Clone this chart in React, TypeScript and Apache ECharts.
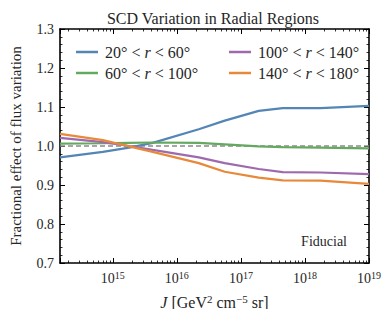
import React, { useEffect, useRef } from "react";
import * as echarts from "echarts";

const J = [1.5e14, 7e14, 1.8e15, 4.2e15, 2.2e16, 5.6e16, 1.9e17, 4.5e17, 1.75e18, 1e19];
const blue = [0.971, 0.985, 0.996, 1.008, 1.043, 1.065, 1.09, 1.097, 1.097, 1.103];
const green = [1.006, 1.007, 1.008, 1.009, 1.008, 1.004, 0.999, 0.997, 0.996, 0.994];
const purple = [1.021, 1.01, 1.0, 0.99, 0.971, 0.956, 0.941, 0.933, 0.932, 0.928];
const orange = [1.031, 1.015, 0.999, 0.985, 0.956, 0.934, 0.919, 0.912, 0.911, 0.903];
const names = ["20° < r < 60°", "60° < r < 100°", "100° < r < 140°", "140° < r < 180°"];
const legendLabels = ["20° < {i|r} < 60°", "60° < {i|r} < 100°", "100° < {i|r} < 140°", "140° < {i|r} < 180°"];
const colors = ["#5385b5", "#65a85f", "#9e6aad", "#e8893a"];
const fiducial = 1.0;

const FONT = "Liberation Serif";
const TXT = "#262626";

export default function App() {
  const ref = useRef<HTMLDivElement>(null);
  useEffect(() => {
    const chart = echarts.init(ref.current!, null, { renderer: "svg" });
    const seriesData = [blue, green, purple, orange];
    const labelMap: Record<string, string> = {};
    names.forEach((n, i) => (labelMap[n] = legendLabels[i]));
    const legendCommon = {
      orient: "vertical" as const,
      icon: "rect",
      itemWidth: 22,
      itemHeight: 2.5,
      itemGap: 5,
      textStyle: {
        fontFamily: FONT,
        fontSize: 16,
        lineHeight: 16,
        color: TXT,
        padding: [0, 0, 0, 2],
        rich: { i: { fontFamily: FONT, fontStyle: "italic", fontSize: 16, lineHeight: 16, color: TXT } },
      },
      formatter: (n: string) => labelMap[n],
      top: 39,
    };
    const xCommon = {
      type: "log" as const,
      logBase: 10,
      min: J[0],
      max: J[J.length - 1],
      splitLine: { show: false },
      axisLine: { show: true, onZero: false, lineStyle: { color: "#000", width: 1.6 } },
      axisTick: { show: true, inside: true, length: 5, lineStyle: { color: "#000", width: 1 } },
      minorTick: { show: true, splitNumber: 9, length: 2.5, lineStyle: { color: "#000", width: 0.8 } },
    };
    const yCommon = {
      type: "value" as const,
      min: 0.7,
      max: 1.3,
      interval: 0.1,
      splitLine: { show: false },
      axisLine: { show: true, onZero: false, lineStyle: { color: "#000", width: 1.6 } },
      axisTick: { show: true, inside: true, length: 5, lineStyle: { color: "#000", width: 1 } },
      minorTick: { show: true, splitNumber: 5, length: 2.5, lineStyle: { color: "#000", width: 0.8 } },
    };
    chart.setOption({
      animation: false,
      title: {
        text: "SCD Variation in Radial Regions",
        left: 208,
        textAlign: "center",
        top: 5,
        textStyle: { fontFamily: FONT, fontSize: 16, fontWeight: "normal", color: TXT },
      },
      legend: [
        { ...legendCommon, left: 71, data: [names[0], names[1]] },
        { ...legendCommon, left: 224, data: [names[2], names[3]] },
      ],
      grid: { left: 57, right: 22, top: 29, bottom: 54, containLabel: false },
      xAxis: [
        {
          ...xCommon,
          position: "bottom",
          name: "{i|J} [GeV{sup|2} cm{sup|−5} sr]",
          nameLocation: "middle",
          nameGap: 30,
          nameTextStyle: {
            fontFamily: FONT,
            fontSize: 16,
            color: TXT,
            rich: {
              i: { fontFamily: FONT, fontStyle: "italic", fontSize: 16, color: TXT },
              sup: { fontFamily: FONT, fontSize: 11, color: TXT, verticalAlign: "top", padding: [0, 0, 7, 0] },
            },
          },
          axisLabel: {
            show: true,
            margin: 7,
            fontFamily: FONT,
            fontSize: 14,
            color: TXT,
            formatter: (v: number) => {
              const e = Math.log10(v);
              if (Math.abs(e - Math.round(e)) > 1e-6) return "";
              return "10{sup|" + Math.round(e) + "}";
            },
            rich: {
              sup: { fontFamily: FONT, fontSize: 10, color: TXT, verticalAlign: "top", padding: [0, 0, 6, 0] },
            },
          },
        },
        { ...xCommon, position: "top", axisLabel: { show: false } },
      ],
      yAxis: [
        {
          ...yCommon,
          position: "left",
          name: "Fractional effect of flux variation",
          nameLocation: "middle",
          nameGap: 37,
          nameTextStyle: { fontFamily: FONT, fontSize: 15, color: TXT },
          axisLabel: {
            fontFamily: FONT,
            fontSize: 14,
            color: TXT,
            margin: 6,
            formatter: (v: number) => v.toFixed(1),
          },
        },
        { ...yCommon, position: "right", axisLabel: { show: false } },
      ],
      graphic: [
        {
          type: "text",
          right: 44,
          top: 234,
          style: { text: "Fiducial", fontFamily: FONT, fontSize: 14, fill: TXT },
        },
      ],
      series: [
        {
          type: "line",
          name: "fiducial",
          data: [
            [J[0], fiducial],
            [J[J.length - 1], fiducial],
          ],
          showSymbol: false,
          silent: true,
          lineStyle: { color: "#8a8a8a", width: 1.3, type: [5, 3] },
          z: 1,
        },
        ...seriesData.map((arr, i) => ({
          type: "line",
          name: names[i],
          data: arr.map((v, k) => [J[k], v]),
          showSymbol: false,
          symbol: "none",
          color: colors[i],
          lineStyle: { color: colors[i], width: 2.2 },
          z: 2 + i,
        })),
      ],
    });
    return () => chart.dispose();
  }, []);
  return <div ref={ref} style={{ width: 391, height: 317, margin: -8 }} />;
}
